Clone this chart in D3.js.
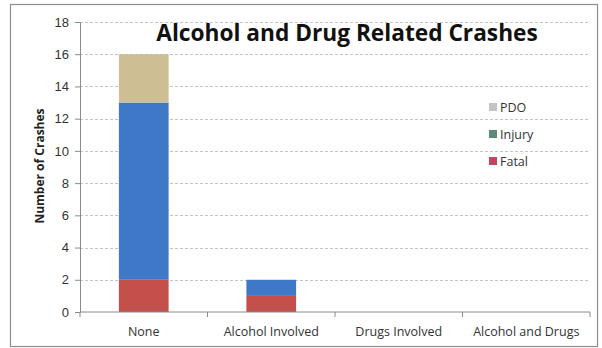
<!DOCTYPE html>
<html>
<head>
<meta charset="utf-8">
<script src="https://cdn.jsdelivr.net/npm/d3@7"></script>
<style>
  body { margin: 0; background: #fff; }
  svg { display: block; font-family: "Open Sans", "DejaVu Sans", sans-serif; }
</style>
</head>
<body>
<svg id="chart" width="602" height="348"></svg>
<script>
// Chart data
var categories = ["None", "Alcohol Involved", "Drugs Involved", "Alcohol and Drugs"];
var seriesNames = ["Fatal", "Injury", "PDO"];
var fatal = [2, 1, 0, 0];
var injury = [11, 1, 0, 0];
var pdo = [3, 0, 0, 0];
var yTicks = [0, 2, 4, 6, 8, 10, 12, 14, 16, 18];

// colours as drawn in the picture (bars) and in the legend keys
var barColors = ["#c4504c", "#3f78c6", "#cdbf93"];
var legendColors = ["#c0465e", "#5b8a78", "#c4c4c4"];

var svg = d3.select("#chart"),
  margin = {left: 80, right: 12, top: 22, bottom: 36},
  width = +svg.attr("width"),
  height = +svg.attr("height");

var rows = categories.map(function (c, i) {
  return {category: c, Fatal: fatal[i], Injury: injury[i], PDO: pdo[i]};
});
var stacked = d3.stack().keys(seriesNames)(rows);

var x = d3.scaleBand()
  .domain(categories)
  .range([margin.left, width - margin.right])
  .paddingInner(0.61)
  .paddingOuter(0.305);

var y = d3.scaleLinear()
  .domain([0, 18])
  .range([312, margin.top]);

// outer frame
svg.append("rect")
  .attr("x", 10.5).attr("y", 4.5)
  .attr("width", 587).attr("height", 342)
  .attr("fill", "#fff")
  .attr("stroke", "#8c8c8c")
  .attr("stroke-width", 1.2);

// gridlines
svg.append("g")
  .selectAll("line")
  .data(yTicks.filter(function (d) { return d > 0; }))
  .join("line")
  .attr("x1", margin.left).attr("x2", width - margin.right)
  .attr("y1", function (d) { return Math.round(y(d)) + 0.5; })
  .attr("y2", function (d) { return Math.round(y(d)) + 0.5; })
  .attr("stroke", "#c4c4c4")
  .attr("stroke-dasharray", "3,2");

// bars
svg.append("g")
  .selectAll("g")
  .data(stacked)
  .join("g")
  .attr("fill", function (d, i) { return barColors[i]; })
  .selectAll("rect")
  .data(function (d) { return d; })
  .join("rect")
  .attr("x", function (d) { return x(d.data.category); })
  .attr("width", x.bandwidth())
  .attr("y", function (d) { return y(d[1]); })
  .attr("height", function (d) { return y(d[0]) - y(d[1]); });

// y axis
var yAxis = svg.append("g")
  .attr("transform", "translate(" + margin.left + ",0)")
  .call(d3.axisLeft(y).tickValues(yTicks).tickSize(5).tickPadding(6));
yAxis.select(".domain").attr("stroke", "#8a8a8a");
yAxis.selectAll(".tick line").attr("stroke", "#8a8a8a");
yAxis.selectAll("text").attr("font-size", 13).attr("fill", "#333");

// x axis with ticks on band edges
var xAxis = svg.append("g")
  .attr("transform", "translate(0," + y(0) + ")");
xAxis.append("line")
  .attr("x1", margin.left).attr("x2", width - margin.right)
  .attr("stroke", "#8a8a8a");
var edges = categories.map(function (c) { return x(c) - x.step() * x.paddingInner() / 2; })
  .concat([width - margin.right]);
xAxis.selectAll("line.edge")
  .data(edges)
  .join("line")
  .attr("class", "edge")
  .attr("x1", function (d) { return d; }).attr("x2", function (d) { return d; })
  .attr("y1", 0).attr("y2", 5)
  .attr("stroke", "#8a8a8a");
xAxis.selectAll("text")
  .data(categories)
  .join("text")
  .attr("x", function (d) { return x(d) + x.bandwidth() / 2; })
  .attr("y", 24)
  .attr("text-anchor", "middle")
  .attr("font-size", 12.5)
  .attr("fill", "#333")
  .text(function (d) { return d; });

// y axis title
svg.append("text")
  .attr("transform", "translate(44,166) rotate(-90)")
  .attr("text-anchor", "middle")
  .attr("font-size", 12)
  .attr("font-weight", "bold")
  .attr("fill", "#222")
  .text("Number of Crashes");

// chart title
svg.append("text")
  .attr("x", 347).attr("y", 41)
  .attr("text-anchor", "middle")
  .attr("font-size", 22.7)
  .attr("font-weight", "bold")
  .attr("fill", "#111")
  .text("Alcohol and Drug Related Crashes");

// legend (PDO on top)
var legend = svg.append("g")
  .selectAll("g")
  .data(seriesNames.slice().reverse())
  .join("g")
  .attr("transform", function (d, i) { return "translate(489," + (107 + i * 27) + ")"; });
legend.append("rect")
  .attr("x", 0).attr("y", -4)
  .attr("width", 8).attr("height", 8)
  .attr("fill", function (d) { return legendColors[seriesNames.indexOf(d)]; });
legend.append("text")
  .attr("x", 11).attr("y", 4.5)
  .attr("font-size", 12.5)
  .attr("fill", "#333")
  .text(function (d) { return d; });
</script>
</body>
</html>
